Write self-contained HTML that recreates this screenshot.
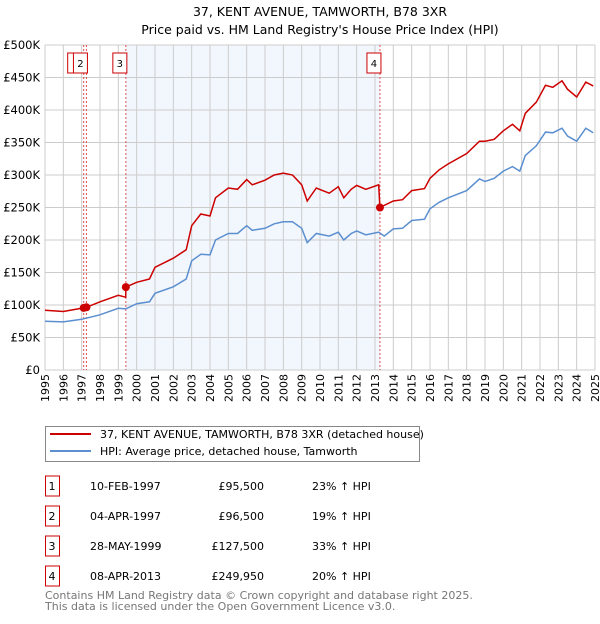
<!DOCTYPE html>
<html><head><meta charset="utf-8"><style>
body{margin:0;background:#fff;font-family:"DejaVu Sans","Liberation Sans",sans-serif;}
svg text{font-family:"DejaVu Sans","Liberation Sans",sans-serif;}
</style></head><body>
<svg id="chart" width="600" height="620" viewBox="0 0 600 620">
<text x="320" y="16" text-anchor="middle" font-size="12.5">37, KENT AVENUE, TAMWORTH, B78 3XR</text>
<text x="320" y="34" text-anchor="middle" font-size="12.5">Price paid vs. HM Land Registry's House Price Index (HPI)</text>
<g id="plot"></g>
<g>
<rect x="45.5" y="426.5" width="374" height="35" fill="#fff" stroke="#888"/>
<line x1="50" y1="434" x2="91" y2="434" stroke="#cc0000" stroke-width="2"/>
<text x="100" y="438" font-size="11">37, KENT AVENUE, TAMWORTH, B78 3XR (detached house)</text>
<line x1="50" y1="451" x2="91" y2="451" stroke="#5b8fd0" stroke-width="2"/>
<text x="100" y="455" font-size="11">HPI: Average price, detached house, Tamworth</text>
</g>
<g id="table" font-size="11"></g>
<text x="45" y="599" font-size="11" fill="#777">Contains HM Land Registry data © Crown copyright and database right 2025.</text>
<text x="45" y="610" font-size="11" fill="#777">This data is licensed under the Open Government Licence v3.0.</text>
</svg>
<script>
const years=[1995,1996,1997,1998,1999,2000,2001,2002,2003,2004,2005,2006,2007,2008,2009,2010,2011,2012,2013,2014,2015,2016,2017,2018,2019,2020,2021,2022,2023,2024,2025];
const yTicks=[0,50000,100000,150000,200000,250000,300000,350000,400000,450000,500000];
const yTickLabels=["£0","£50K","£100K","£150K","£200K","£250K","£300K","£350K","£400K","£450K","£500K"];
const redT=[1995,1996,1997.11,1997.26,1998,1999,1999.4,1999.41,2000,2000.7,2001,2002,2002.7,2003,2003.5,2004,2004.3,2005,2005.5,2006,2006.3,2007,2007.5,2008,2008.5,2009,2009.3,2009.8,2010.5,2011,2011.3,2011.7,2012,2012.5,2013.2,2013.27,2014,2014.5,2015,2015.7,2016,2016.5,2017,2018,2018.7,2019,2019.5,2020,2020.5,2020.9,2021.2,2021.8,2022.3,2022.7,2023.2,2023.5,2024,2024.5,2024.9];
const redV=[92,90,95.5,96.5,105,115,112,127.5,135,140,158,172,185,222,240,237,265,280,278,293,285,292,300,303,300,285,260,280,272,282,265,278,284,278,285,249.95,260,262,276,279,295,308,317,333,352,352,355,368,378,368,395,412,438,435,445,432,420,443,437];
const blueT=[1995,1996,1997,1998,1999,1999.4,2000,2000.7,2001,2002,2002.7,2003,2003.5,2004,2004.3,2005,2005.5,2006,2006.3,2007,2007.5,2008,2008.5,2009,2009.3,2009.8,2010.5,2011,2011.3,2011.7,2012,2012.5,2013.2,2013.5,2014,2014.5,2015,2015.7,2016,2016.5,2017,2018,2018.7,2019,2019.5,2020,2020.5,2020.9,2021.2,2021.8,2022.3,2022.7,2023.2,2023.5,2024,2024.5,2024.9];
const blueV=[75,74,78,85,95,94,102,105,118,128,140,168,178,177,200,210,210,222,215,218,225,228,228,218,196,210,206,212,200,210,214,208,212,206,217,218,230,232,248,258,265,276,294,290,295,306,313,306,330,345,366,365,372,360,352,372,365];
const saleLabels=["1","2","3","4"];
const saleT=[1997.11,1997.26,1999.41,2013.27];
const saleV=[95.5,96.5,127.5,249.95];
const saleDates=["10-FEB-1997","04-APR-1997","28-MAY-1999","08-APR-2013"];
const salePrices=["£95,500","£96,500","£127,500","£249,950"];
const saleHpi=["23% ↑ HPI","19% ↑ HPI","33% ↑ HPI","20% ↑ HPI"];

const L=45,R=595,T=45,B=370;
const xs=t=>L+(t-1995)/30*(R-L);
const ys=v=>B-v/500000*(B-T);
const NS="http://www.w3.org/2000/svg";
const plot=document.getElementById('plot');
function mk(tag,attrs,parent){const e=document.createElementNS(NS,tag);for(const k in attrs)e.setAttribute(k,attrs[k]);(parent||plot).appendChild(e);return e;}
let bg=mk('rect',{x:L,y:T,width:R-L,height:B-T,fill:'#fff'});


let sh=mk('rect',{x:xs(saleT[2]),y:T,width:xs(saleT[3])-xs(saleT[2]),height:B-T,fill:'#eef3fc',opacity:0.75});


years.forEach(y=>{
 let g=mk('line',{x1:xs(y),x2:xs(y),y1:T,y2:B,stroke:'#ccc','stroke-width':1});
 
 
 const tx=xs(y)+4, ty=B+4;
 let t=mk('text',{x:tx,y:ty,'text-anchor':'end','font-size':11,transform:`rotate(-90 ${tx} ${ty})`});
 t.textContent=y;
 
 
});
yTicks.forEach((v,i)=>{
 let g=mk('line',{x1:L,x2:R,y1:ys(v),y2:ys(v),stroke:'#ccc','stroke-width':1});
 
 
 let t=mk('text',{x:L-5,y:ys(v)+4,'text-anchor':'end','font-size':11.5});
 t.textContent=yTickLabels[i];
 
 
});
saleT.forEach((t,i)=>{
 let l=mk('line',{x1:xs(t),x2:xs(t),y1:T,y2:B,stroke:'#e05050','stroke-width':1,'stroke-dasharray':'2,2'});
 
 
});
function path(ts,vs,color,name){
 let d=ts.map((t,i)=>(i?'L':'M')+xs(t).toFixed(1)+','+ys(vs[i]*1000).toFixed(1)).join('');
 let p=mk('path',{d:d,fill:'none',stroke:color,'stroke-width':1.5});
 
 
}
path(blueT,blueV,'#5b8fd0','hpi-line');
path(redT,redV,'#cc0000','price-paid-line');
let r1=mk('rect',{x:xs(saleT[0])-16,y:53,width:14,height:20,fill:'#fff',stroke:'#cc0000'});


saleT.forEach((t,i)=>{
 let c=mk('circle',{cx:xs(t),cy:ys(saleV[i]*1000),r:4,fill:'#cc0000'});
 
 
 if(i===0)return;
 let r=mk('rect',{x:xs(t)-13,y:53,width:14,height:20,fill:'#fff',stroke:'#cc0000'});
 
 
 let tx=mk('text',{x:xs(t)-6,y:67,'text-anchor':'middle','font-size':10});
 tx.textContent=saleLabels[i];
 
 
});
const tbl=document.getElementById('table');
saleLabels.forEach((s,i)=>{
 const y=483+i*30;
 let r=mk('rect',{x:45.5,y:y-7,width:14,height:20,fill:'#fff',stroke:'#cc0000'},tbl);
 
 
 const cells=[[52,s,'middle'],[90,saleDates[i],'start'],[264,salePrices[i],'end'],[312,saleHpi[i],'start']];
 const names=['table-index','table-date','table-price','table-hpi'];
 cells.forEach((c,j)=>{
  let t=mk('text',{x:c[0],y:y+7,'text-anchor':c[2],'font-size':11},tbl);
  t.textContent=c[1];
  
  
 });
});
</script>
</body></html>
